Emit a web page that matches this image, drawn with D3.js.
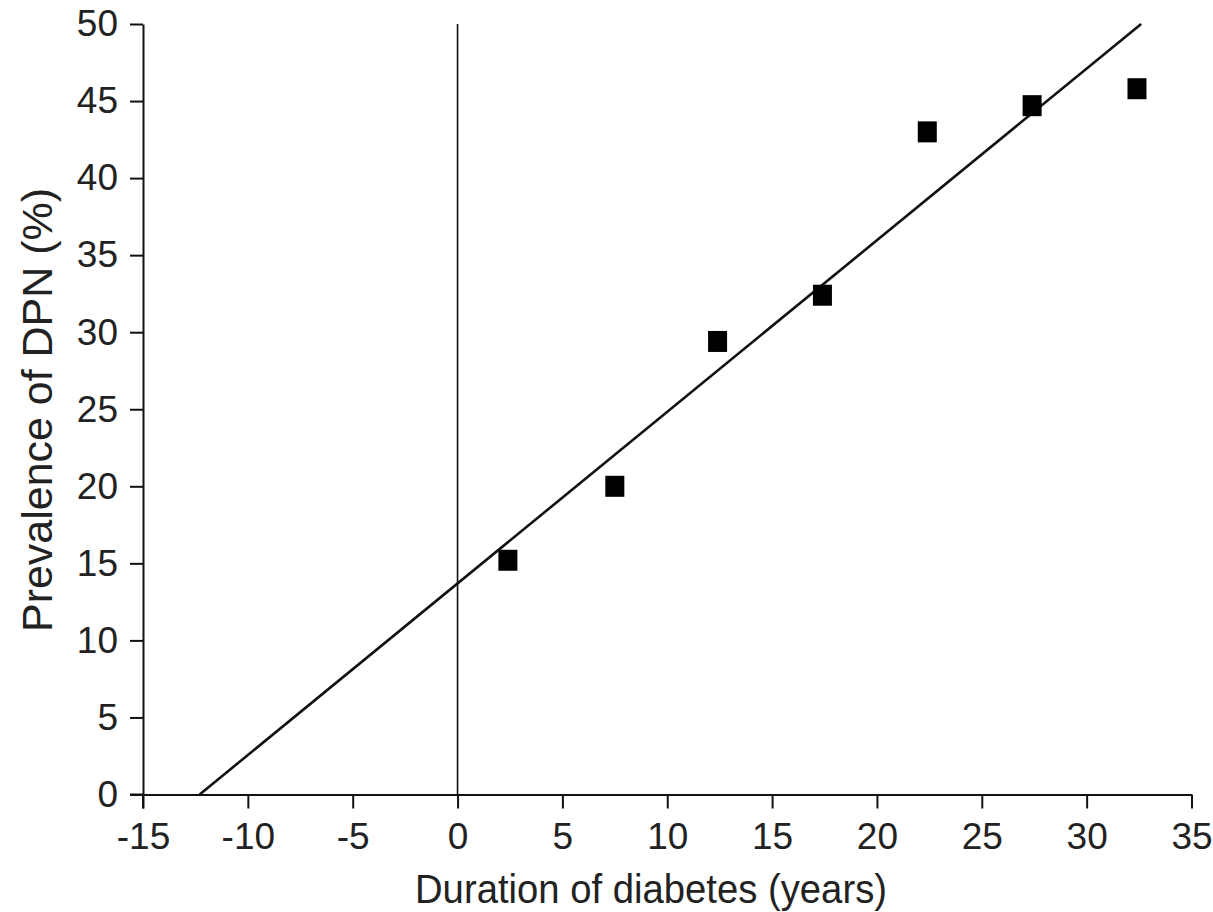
<!DOCTYPE html>
<html>
<head>
<meta charset="utf-8">
<script src="https://cdn.jsdelivr.net/npm/d3@7"></script>
<style>
  html, body { margin: 0; padding: 0; background: #fff; }
  svg { display: block; font-family: "Liberation Sans", Arial, sans-serif; }
</style>
</head>
<body>
<div id="chart"></div>
<script>
// values
const durations = [2.4, 7.5, 12.4, 17.4, 22.4, 27.4, 32.4];
const prevalence = [15.2, 20.0, 29.4, 32.4, 43.0, 44.7, 45.8];
const fitX = [-12.3, 32.6];
const fitY = [0, 50];
const xTicks = [-15, -10, -5, 0, 5, 10, 15, 20, 25, 30, 35];
const yTicks = [0, 5, 10, 15, 20, 25, 30, 35, 40, 45, 50];

const width = 1213, height = 912;

const svg = d3.select('#chart').append('svg')
  .attr('width', width)
  .attr('height', height);

const x = d3.scaleLinear().domain([-15, 35]).range([143, 1191.5]);
const y = d3.scaleLinear().domain([0, 50]).range([794.5, 24]);

// plain hyphen for negatives, like the original
const fmt = d => String(d);

// axes
const yAxis = svg.append('g')
  .attr('transform', `translate(${x(-15)},0)`)
  .call(d3.axisLeft(y).tickValues(yTicks).tickFormat(fmt)
    .tickSize(13).tickSizeOuter(0).tickPadding(12));

const xAxis = svg.append('g')
  .attr('transform', `translate(0,${y(0)})`)
  .call(d3.axisBottom(x).tickValues(xTicks).tickFormat(fmt)
    .tickSize(14).tickSizeOuter(0).tickPadding(14));

[xAxis, yAxis].forEach(g => {
  g.select('.domain').attr('stroke', '#111').attr('stroke-width', 2);
  g.selectAll('.tick line').attr('stroke', '#111').attr('stroke-width', 2);
  g.selectAll('.tick text')
    .attr('fill', '#222')
    .style('font-size', '37px')
    .style('font-family', '"Liberation Sans", Arial, sans-serif');
});

// extend the y axis line down to the end of the -15 tick
svg.append('line')
  .attr('x1', x(-15)).attr('x2', x(-15))
  .attr('y1', y(0)).attr('y2', y(0) + 14)
  .attr('stroke', '#111').attr('stroke-width', 2);
// extend the x axis line left to the end of the 0 tick
svg.append('line')
  .attr('x1', x(-15) - 13).attr('x2', x(-15))
  .attr('y1', y(0)).attr('y2', y(0))
  .attr('stroke', '#111').attr('stroke-width', 2);

// vertical reference line at x = 0
svg.append('line')
  .attr('x1', x(0)).attr('x2', x(0))
  .attr('y1', y(50)).attr('y2', y(0))
  .attr('stroke', '#111').attr('stroke-width', 1.6);

// regression line
svg.append('path')
  .datum(fitX.map((d, i) => [d, fitY[i]]))
  .attr('fill', 'none')
  .attr('stroke', '#111')
  .attr('stroke-width', 2.6)
  .attr('d', d3.line().x(d => x(d[0])).y(d => y(d[1])));

// square markers
const sq = { w: 19, h: 21 };
svg.selectAll('rect.pt')
  .data(durations.map((d, i) => ({ d, p: prevalence[i] })))
  .join('rect')
  .attr('class', 'pt')
  .attr('x', d => x(d.d) - sq.w / 2)
  .attr('y', d => y(d.p) - sq.h / 2)
  .attr('width', sq.w)
  .attr('height', sq.h)
  .attr('fill', '#000');

// axis titles
svg.append('text')
  .attr('x', 651)
  .attr('y', 903)
  .attr('text-anchor', 'middle')
  .attr('fill', '#222')
  .attr('textLength', 472)
  .attr('lengthAdjust', 'spacingAndGlyphs')
  .style('font-size', '41px')
  .text('Duration of diabetes (years)');

svg.append('text')
  .attr('transform', 'translate(52,410) rotate(-90)')
  .attr('text-anchor', 'middle')
  .attr('fill', '#222')
  .attr('textLength', 444)
  .attr('lengthAdjust', 'spacingAndGlyphs')
  .style('font-size', '43px')
  .text('Prevalence of DPN (%)');
</script>
</body>
</html>
